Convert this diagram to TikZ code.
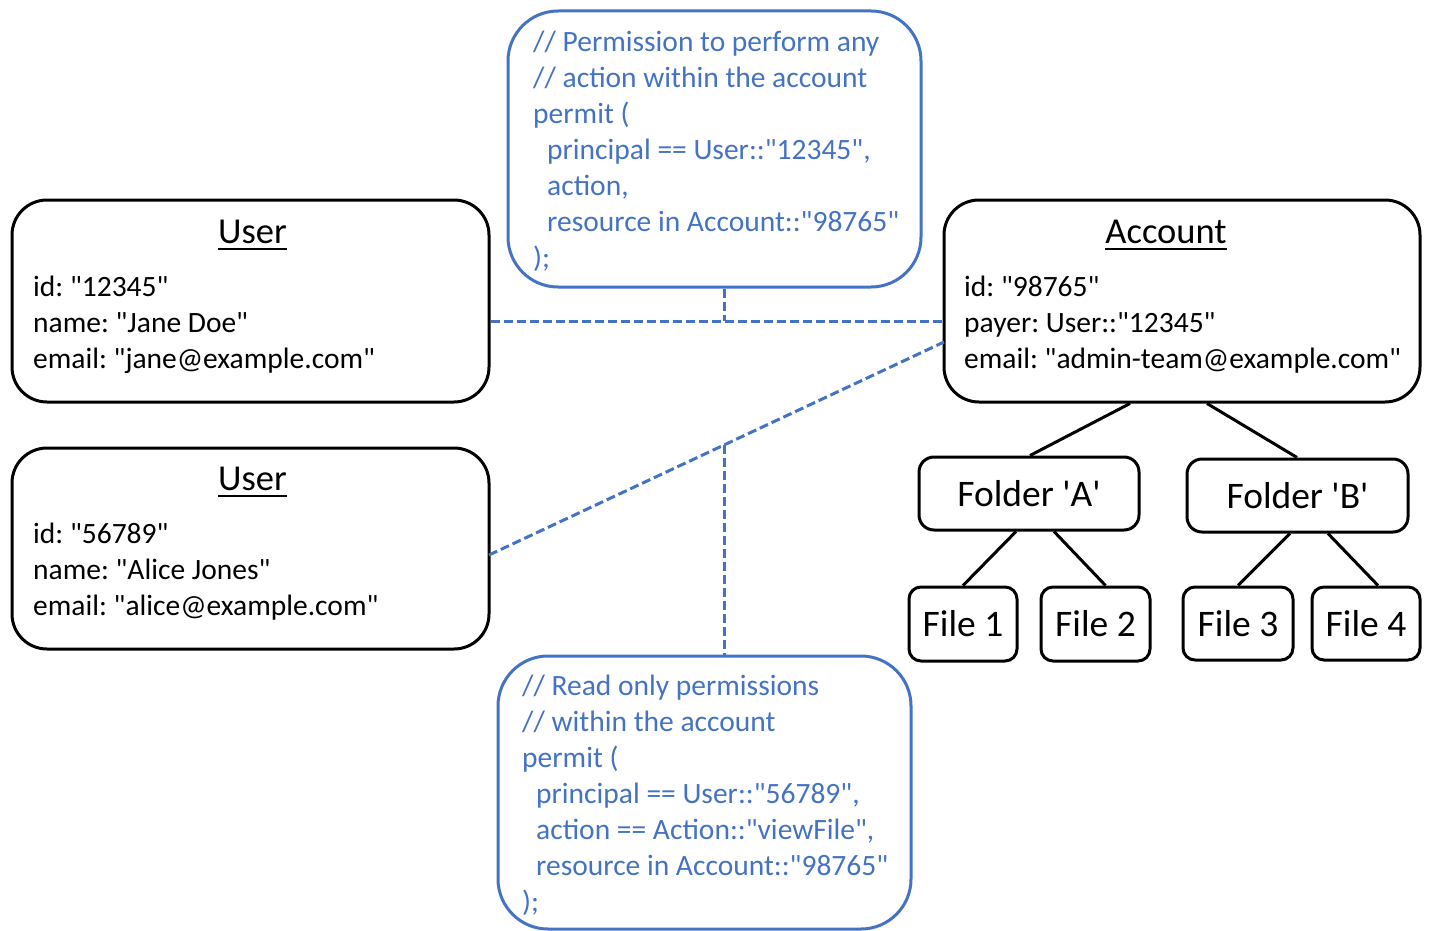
\documentclass[tikz,border=0pt]{standalone}
\usepackage{fontspec}
\usetikzlibrary{calc}
\setmainfont{Carlito}[Ligatures=TeXOff]
\frenchspacing
\definecolor{pblue}{HTML}{4472C4}
\newcommand\bodyfont{\fontsize{29.5}{36}\selectfont}
\newcommand\titlefont{\fontsize{36.5}{44}\selectfont}
\newcommand\bigfont{\fontsize{37.5}{45}\selectfont}
\begin{document}
\begin{tikzpicture}[x=1pt,y=-1pt,
  entity/.style={draw=black,line width=3pt,rounded corners=35pt,inner sep=0pt,minimum width=477pt,minimum height=202pt},
  policy/.style={draw=pblue,line width=3pt,rounded corners=50pt,inner sep=0pt,minimum width=413pt},
  folderbox/.style={draw=black,line width=3pt,rounded corners=15pt,inner sep=0pt,minimum width=220pt,minimum height=73pt,font=\bigfont},
  filebox/.style={draw=black,line width=3pt,rounded corners=12pt,inner sep=0pt,minimum width=108pt,minimum height=73pt,font=\bigfont},
  titletext/.style={anchor=base,inner sep=0pt,font=\titlefont},
  bodytext/.style={anchor=base west,inner sep=0pt,align=left,font=\bodyfont},
  codetext/.style={anchor=base west,inner sep=0pt,align=left,font=\bodyfont,text=pblue},
  uline/.style={line width=2.5pt},
  link/.style={draw=pblue,line width=3pt,dash pattern=on 9pt off 4pt},
  tree/.style={draw=black,line width=3pt}
]
\useasboundingbox (0,0) rectangle (1429,931);

% entity boxes
\node[entity] (user1) at (250.5,301) {};
\node[entity,minimum height=201pt] (user2) at (250.5,548.5) {};
\node[entity,minimum width=476pt] (acct) at (1182,301) {};

\node[titletext] (t1) at (252.5,243) {User};
\node[titletext] (t2) at (252.5,490) {User};
\node[titletext] (t3) at (1166,243) {Account};
\foreach \t in {t1,t2,t3}{\draw[uline] ([yshift=-6pt]\t.base west) -- ([yshift=-6pt]\t.base east);}

% multi-line texts: the base anchor is the baseline of the last line
\node[bodytext] (b1) at (33,368) {id: "12345"\\name: "Jane Doe"\\email: "jane@example.com"};
\node[bodytext] (b2) at (33,615) {id: "56789"\\name: "Alice Jones"\\email: "alice@example.com"};
\node[bodytext] (b3) at (964,368) {id: "98765"\\payer: User::"12345"\\email: "admin-team@example.com"};

% policy boxes
\node[policy,minimum height=276pt] (pol1) at (714.5,149) {};
\node[policy,minimum height=273pt] (pol2) at (704.5,792.5) {};
\node[codetext] (c1) at (533,267) {// Permission to perform any\\// action within the account\\permit (\\\hspace{14pt}principal == User::"12345",\\\hspace{14pt}action,\\\hspace{14pt}resource in Account::"98765"\\);};
\node[codetext] (c2) at (522,911) {// Read only permissions\\// within the account\\permit (\\\hspace{14pt}principal == User::"56789",\\\hspace{14pt}action == Action::"viewFile",\\\hspace{14pt}resource in Account::"98765"\\);};

% folders and files
\node[folderbox] (fa) at (1029,493.5) {Folder 'A'};
\node[folderbox,minimum width=221pt] (fb) at (1297.5,495.5) {Folder 'B'};
\node[filebox,minimum height=74pt] (f1) at (963,624) {File 1};
\node[filebox,minimum width=109pt,minimum height=74pt] (f2) at (1095.5,624) {File 2};
\node[filebox,minimum width=110pt] (f3) at (1238,623.5) {File 3};
\node[filebox] (f4) at (1366,623.5) {File 4};

% tree connectors
\draw[tree] ([xshift=-52pt]acct.south) -- ([xshift=1pt]fa.north);
\draw[tree] ([xshift=25pt]acct.south) -- ([xshift=-0.5pt]fb.north);
\draw[tree] ([xshift=-13pt]fa.south) -- (f1.north);
\draw[tree] ([xshift=25pt]fa.south) -- ([xshift=10pt]f2.north);
\draw[tree] ([xshift=-7.5pt]fb.south) -- (f3.north);
\draw[tree] ([xshift=30.5pt]fb.south) -- ([xshift=12pt]f4.north);

% policy links
\coordinate (j1) at (724,321);
\draw[link] (j1 -| user1.east) -- (j1 -| acct.west);
\draw[link] (j1 |- pol1.south) -- (j1);
\coordinate (d1) at (489,555);
\coordinate (d2) at (944,342);
\draw[link] (d1) -- (d2);
\coordinate (j2) at ($(d1)!0.5165!(d2)$);
\draw[link] (j2) -- (j2 |- pol2.north);
\end{tikzpicture}
\end{document}
